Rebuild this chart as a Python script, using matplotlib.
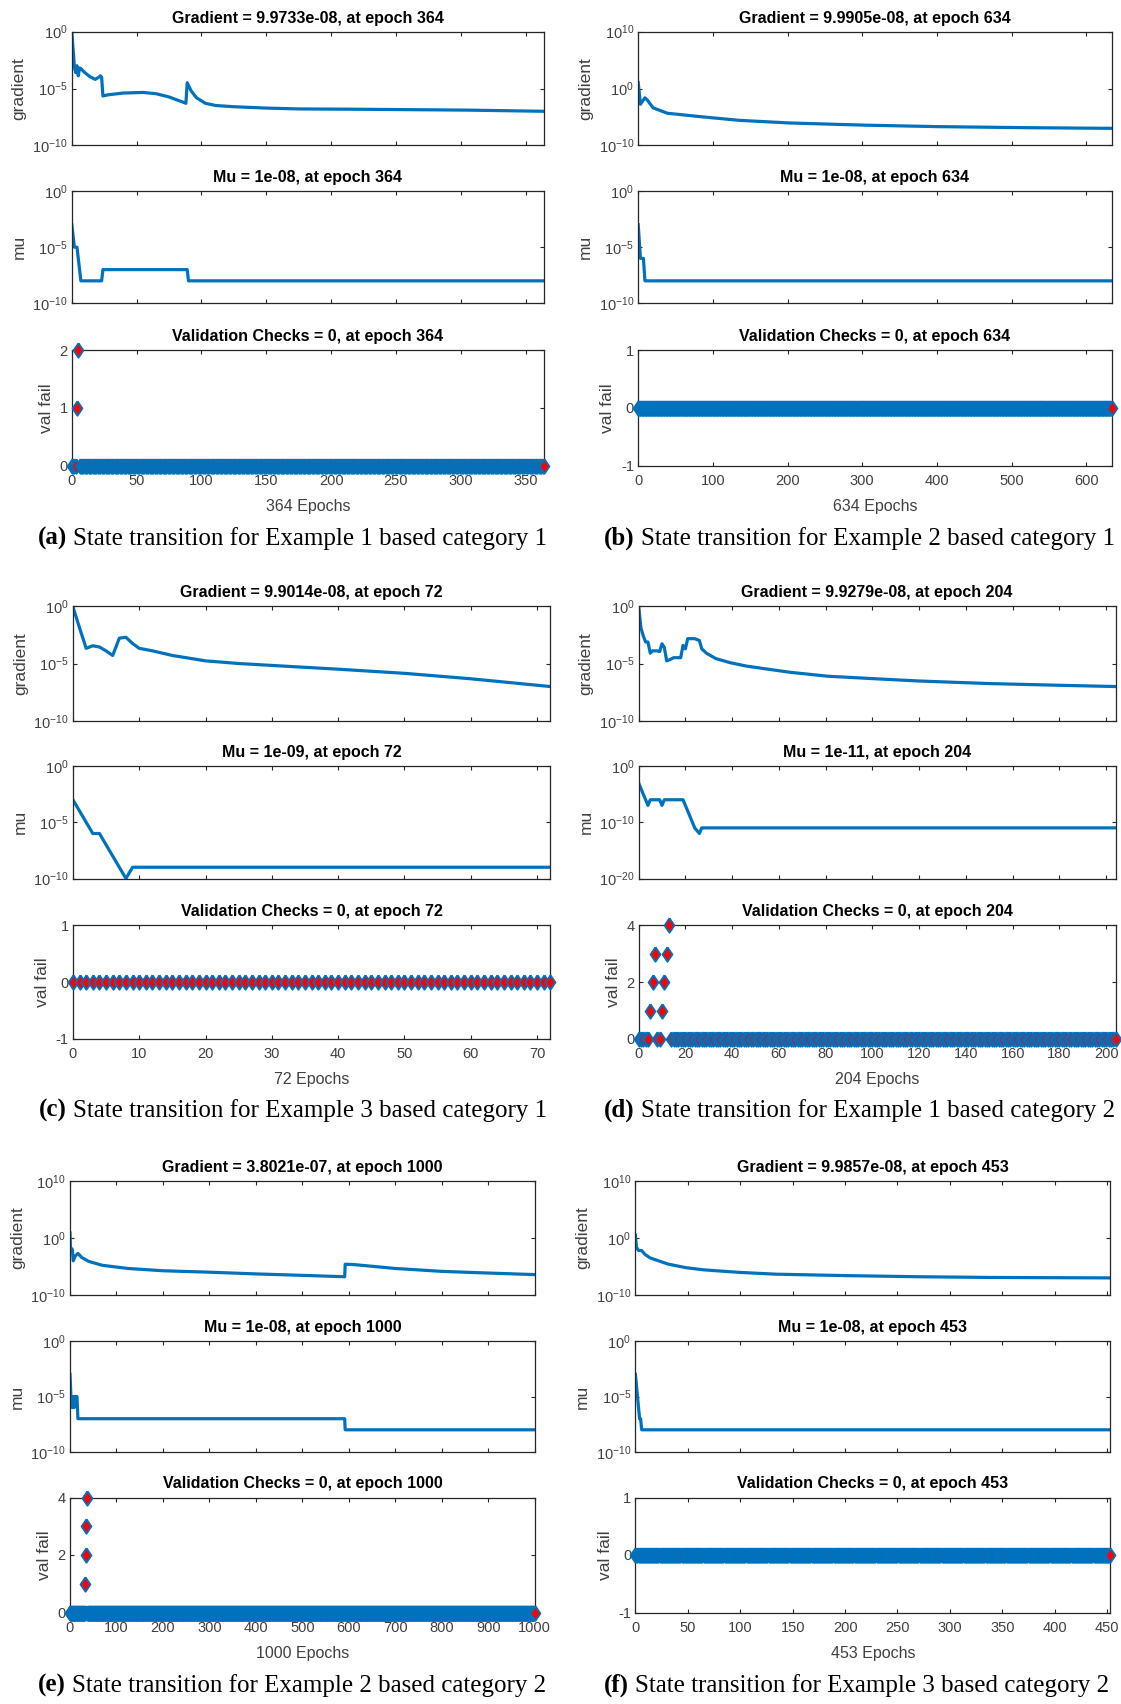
import numpy as np
import matplotlib
matplotlib.use("Agg")
import matplotlib.pyplot as plt
from matplotlib.ticker import FixedLocator, FixedFormatter, NullLocator

plt.rcParams['font.family'] = ['Liberation Sans', 'DejaVu Sans']
plt.rcParams['mathtext.default'] = 'regular'
plt.rcParams['axes.unicode_minus'] = False

# ------------------------------------------------------------------ data
# (a) Example 1, category 1
a_epochs = 364
a_grad_x = [0, 2, 3, 4, 5, 6, 7, 10, 14, 18, 21, 22, 23, 24, 28, 40, 55, 65, 75, 87,
            88, 89, 92, 96, 103, 111, 125, 150, 175, 222, 305, 364]
a_grad_y = [1.0, 7.9e-4, 2.5e-4, 1.0e-3, 1.3e-4, 6.3e-4, 5.6e-4, 2.5e-4, 1.1e-4, 6.3e-5,
            1.0e-4, 1.3e-4, 1.0e-4, 2.2e-6, 2.8e-6, 4.0e-6, 4.5e-6, 3.5e-6, 1.8e-6, 5.6e-7,
            5.0e-7, 3.2e-5, 6.3e-6, 1.6e-6, 5.0e-7, 3.2e-7, 2.5e-7, 1.9e-7, 1.6e-7, 1.5e-7,
            1.26e-7, 9.97e-8]
a_mu_x = [0, 1, 2, 4, 5, 6, 7, 23, 24, 89, 90, 364]
a_mu_y = [1e-3, 1e-4, 1e-5, 1e-5, 1e-6, 1e-7, 1e-8, 1e-8, 1e-7, 1e-7, 1e-8, 1e-8]
a_val_fail = {4: 1, 5: 2}

# (b) Example 2, category 1
b_epochs = 634
b_grad_x = [0, 3, 6, 9, 12, 20, 39, 87, 136, 203, 304, 400, 520, 634]
b_grad_y = [1.1e1, 1.7e-3, 6.3e-3, 2.3e-2, 1.0e-2, 4.0e-4, 4.5e-5, 1.0e-5, 2.5e-6,
            8.7e-7, 3.6e-7, 2.0e-7, 1.3e-7, 9.99e-8]
b_mu_x = [0, 1, 2, 3, 7, 8, 9, 634]
b_mu_y = [1e-3, 1e-4, 1e-5, 1e-6, 1e-6, 1e-7, 1e-8, 1e-8]
b_val_fail = {}

# (c) Example 3, category 1
c_epochs = 72
c_grad_x = [0, 1, 2, 3, 4, 5, 6, 7, 8, 9, 10, 12, 15, 20, 25, 30, 40, 50, 60, 72]
c_grad_y = [8.7e-1, 1.26e-2, 2.1e-4, 3.5e-4, 2.7e-4, 1.26e-4, 5.0e-5, 1.6e-3, 1.9e-3,
            5.5e-4, 2.1e-4, 1.26e-4, 5.0e-5, 1.7e-5, 1.0e-5, 6.8e-6, 3.2e-6, 1.4e-6,
            4.7e-7, 9.9e-8]
c_mu_x = [0, 1, 2, 3, 4, 5, 6, 7, 8, 9, 72]
c_mu_y = [1e-3, 1e-4, 1e-5, 1e-6, 1e-6, 1e-7, 1e-8, 1e-9, 1e-10, 1e-9, 1e-9]
c_val_fail = {}

# (d) Example 1, category 2
d_epochs = 204
d_grad_x = [0, 1, 2, 3, 4, 5, 6, 8, 9, 10, 11, 12, 13, 15, 18, 19, 20, 21, 24, 26, 27,
            29, 33, 39, 46, 54, 65, 81, 104, 120, 150, 181, 204]
d_grad_y = [1.0, 1.26e-2, 2.5e-3, 7.4e-4, 7.4e-4, 7.9e-5, 1.26e-4, 1.26e-4, 1.1e-4,
            5.2e-4, 2.5e-4, 1.7e-5, 2.0e-5, 3.2e-5, 3.2e-5, 3.7e-4, 1.9e-4, 1.45e-3,
            1.45e-3, 1.0e-3, 1.9e-4, 7.9e-5, 2.7e-5, 1.2e-5, 6.0e-6, 3.5e-6, 1.7e-6,
            7.8e-7, 4.4e-7, 3.0e-7, 1.8e-7, 1.26e-7, 9.93e-8]
d_mu_x = [0, 1, 2, 3, 4, 5, 9, 10, 11, 19, 20, 21, 22, 23, 24, 26, 27, 204]
d_mu_y = [1e-3, 1e-4, 1e-5, 1e-6, 1e-7, 1e-6, 1e-6, 1e-7, 1e-6, 1e-6, 1e-7, 1e-8,
          1e-9, 1e-10, 1e-11, 1e-12, 1e-11, 1e-11]
d_val_fail = {5: 1, 6: 2, 7: 3, 10: 1, 11: 2, 12: 3, 13: 4}

# (e) Example 2, category 2
e_epochs = 1000
e_grad_x = [0, 1, 5, 7, 11, 17, 25, 40, 70, 125, 200, 300, 400, 500, 591, 592, 610,
            700, 800, 900, 1000]
e_grad_y = [7.9, 2.0e-2, 1.0e-2, 1.0e-4, 6.3e-4, 2.0e-3, 4.0e-4, 7.9e-5, 1.6e-5,
            4.5e-6, 1.8e-6, 1.0e-6, 5.0e-7, 2.8e-7, 1.6e-7, 2.5e-5, 2.2e-5, 4.5e-6,
            1.4e-6, 7.1e-7, 3.8e-7]
e_mu_x = [0, 1, 2, 5, 7, 9, 11, 15, 16, 17, 591, 592, 1000]
e_mu_y = [1e-3, 1e-4, 1e-5, 1e-6, 1e-5, 1e-6, 1e-5, 1e-5, 1e-6, 1e-7, 1e-7, 1e-8, 1e-8]
e_val_fail = {33: 1, 34: 2, 35: 3, 36: 4}

# (f) Example 3, category 2
f_epochs = 453
f_grad_x = [0, 1, 3, 6, 9, 14, 31, 48, 65, 99, 134, 202, 270, 339, 453]
f_grad_y = [3.2, 2.5e-2, 6.3e-3, 6.3e-3, 1.4e-3, 3.2e-4, 2.7e-5, 6.3e-6, 2.6e-6,
            9.3e-7, 4.5e-7, 2.5e-7, 1.6e-7, 1.2e-7, 9.99e-8]
f_mu_x = [0, 1, 2, 3, 4, 5, 6, 453]
f_mu_y = [1e-3, 1e-4, 1e-5, 1e-6, 1e-7, 1e-7, 1e-8, 1e-8]
f_val_fail = {}

grad_titles = ["Gradient = 9.9733e-08, at epoch 364", "Gradient = 9.9905e-08, at epoch 634",
               "Gradient = 9.9014e-08, at epoch 72", "Gradient = 9.9279e-08, at epoch 204",
               "Gradient = 3.8021e-07, at epoch 1000", "Gradient = 9.9857e-08, at epoch 453"]
mu_titles = ["Mu = 1e-08, at epoch 364", "Mu = 1e-08, at epoch 634", "Mu = 1e-09, at epoch 72",
             "Mu = 1e-11, at epoch 204", "Mu = 1e-08, at epoch 1000", "Mu = 1e-08, at epoch 453"]
val_titles = ["Validation Checks = 0, at epoch 364", "Validation Checks = 0, at epoch 634",
              "Validation Checks = 0, at epoch 72", "Validation Checks = 0, at epoch 204",
              "Validation Checks = 0, at epoch 1000", "Validation Checks = 0, at epoch 453"]
caption_tags = ["(a)", "(b)", "(c)", "(d)", "(e)", "(f)"]
caption_texts = ["State transition for Example 1 based category 1",
                 "State transition for Example 2 based category 1",
                 "State transition for Example 3 based category 1",
                 "State transition for Example 1 based category 2",
                 "State transition for Example 2 based category 2",
                 "State transition for Example 3 based category 2"]

x_tick_steps = [50, 100, 10, 20, 100, 50]
grad_exp_ranges = [(-10, 0), (-10, 10), (-10, 0), (-10, 0), (-10, 10), (-10, 10)]
mu_exp_ranges = [(-10, 0), (-10, 0), (-10, 0), (-20, 0), (-10, 0), (-10, 0)]
val_ranges = [(0, 2, [0, 1, 2]), (-1, 1, [-1, 0, 1]), (-1, 1, [-1, 0, 1]),
              (0, 4, [0, 2, 4]), (0, 4, [0, 2, 4]), (-1, 1, [-1, 0, 1])]

panels = [
    (a_epochs, a_grad_x, a_grad_y, a_mu_x, a_mu_y, a_val_fail),
    (b_epochs, b_grad_x, b_grad_y, b_mu_x, b_mu_y, b_val_fail),
    (c_epochs, c_grad_x, c_grad_y, c_mu_x, c_mu_y, c_val_fail),
    (d_epochs, d_grad_x, d_grad_y, d_mu_x, d_mu_y, d_val_fail),
    (e_epochs, e_grad_x, e_grad_y, e_mu_x, e_mu_y, e_val_fail),
    (f_epochs, f_grad_x, f_grad_y, f_mu_x, f_mu_y, f_val_fail),
]

# ------------------------------------------------------------------ layout (pixels)
W, H = 1121, 1704
col_x = [(71.8, 543.8), (638.2, 1111.7), (72.9, 550.3), (638.6, 1115.6), (70.0, 534.8), (635.4, 1110.3)]
row_y = [
    [(31.6, 145.4), (191.0, 303.3), (350.0, 465.5)],
    [(606.0, 721.0), (766.0, 878.5), (925.4, 1039.0)],
    [(1181.0, 1295.0), (1341.0, 1452.0), (1497.5, 1612.5)],
]
caption_pos = [(38, 545), (604, 545), (39, 1117), (604, 1117), (38, 1692), (604, 1692)]

BLUE = '#0072BD'
AXC = '#262626'
TXT = '#404040'
TICK_FS = 10.5
XLABEL_FS = 11.5
YLABEL_FS = 12.5
TITLE_FS = 11.5
CAP_FS = 18
SERIF = ['Liberation Serif', 'DejaVu Serif']
LW = 2.3

diamond = [(0, 1), (0.68, 0), (0, -1), (-0.68, 0), (0, 1)]

fig = plt.figure(figsize=(W / 100, H / 100), dpi=100)


def make_ax(x0, x1, y0, y1):
    ax = fig.add_axes([x0 / W, 1 - y1 / H, (x1 - x0) / W, (y1 - y0) / H])
    for s in ax.spines.values():
        s.set_color(AXC)
        s.set_linewidth(0.9)
    ax.tick_params(which='both', direction='in', top=True, right=True, length=3.2,
                   width=0.8, color=AXC, labelsize=TICK_FS, labelcolor=TXT)
    ax.tick_params(axis='x', pad=6)
    ax.tick_params(axis='y', pad=3)
    return ax


def log_axis(ax, lo, hi):
    ax.set_yscale('log')
    ax.set_ylim(10.0 ** lo, 10.0 ** hi)
    exps = list(range(lo, hi + 1, 5 if hi - lo == 10 else 10))
    ax.yaxis.set_major_locator(FixedLocator([10.0 ** e for e in exps]))
    ax.yaxis.set_major_formatter(FixedFormatter([r'$10^{%d}$' % e for e in exps]))
    ax.yaxis.set_minor_locator(NullLocator())


for i, (n_ep, gx, gy, mx, my, vf) in enumerate(panels):
    x0, x1 = col_x[i]
    rows = row_y[i // 2]
    xt = list(range(0, n_ep + 1, x_tick_steps[i]))

    # gradient
    ax = make_ax(x0, x1, *rows[0])
    ax.plot(gx, gy, color=BLUE, lw=LW, solid_joinstyle='round')
    log_axis(ax, *grad_exp_ranges[i])
    ax.set_xlim(0, n_ep)
    ax.set_xticks(xt)
    ax.set_xticklabels([])
    ax.set_ylabel('gradient', fontsize=YLABEL_FS, color=TXT, labelpad=4)
    ax.set_title(grad_titles[i], fontsize=TITLE_FS, fontweight='bold', pad=6.5)

    # mu
    ax = make_ax(x0, x1, *rows[1])
    ax.plot(mx, my, color=BLUE, lw=LW, solid_joinstyle='round')
    log_axis(ax, *mu_exp_ranges[i])
    ax.set_xlim(0, n_ep)
    ax.set_xticks(xt)
    ax.set_xticklabels([])
    ax.set_ylabel('mu', fontsize=YLABEL_FS, color=TXT, labelpad=4)
    ax.set_title(mu_titles[i], fontsize=TITLE_FS, fontweight='bold', pad=6.5)

    # validation checks
    ax = make_ax(x0, x1, *rows[2])
    epochs = np.arange(n_ep + 1)
    vals = np.zeros(n_ep + 1)
    for k, v in vf.items():
        vals[k] = v
    ax.plot(epochs, vals, linestyle='none', marker=diamond, markersize=10.5,
            markerfacecolor='#FF0000', markeredgecolor=BLUE, markeredgewidth=1.3,
            clip_on=False, zorder=3)
    lo, hi, yt = val_ranges[i]
    ax.set_ylim(lo, hi)
    ax.set_yticks(yt)
    ax.set_xlim(0, n_ep)
    ax.set_xticks(xt)
    ax.set_ylabel('val fail', fontsize=YLABEL_FS, color=TXT, labelpad=4)
    ax.set_xlabel('%d Epochs' % n_ep, fontsize=XLABEL_FS, color=TXT, labelpad=8)
    ax.set_title(val_titles[i], fontsize=TITLE_FS, fontweight='bold', pad=6.5)

# captions
renderer = fig.canvas.get_renderer()
for i in range(6):
    cx, cy = caption_pos[i]
    t1 = fig.text(cx / W, 1 - cy / H, caption_tags[i], fontfamily=SERIF, fontweight='bold',
                  fontsize=CAP_FS, va='baseline', ha='left', color='black')
    w = t1.get_window_extent(renderer).width
    fig.text((cx + w + 6) / W, 1 - cy / H, caption_texts[i], fontfamily=SERIF,
             fontsize=CAP_FS, va='baseline', ha='left', color='black')

fig.savefig('out.png', dpi=100)
